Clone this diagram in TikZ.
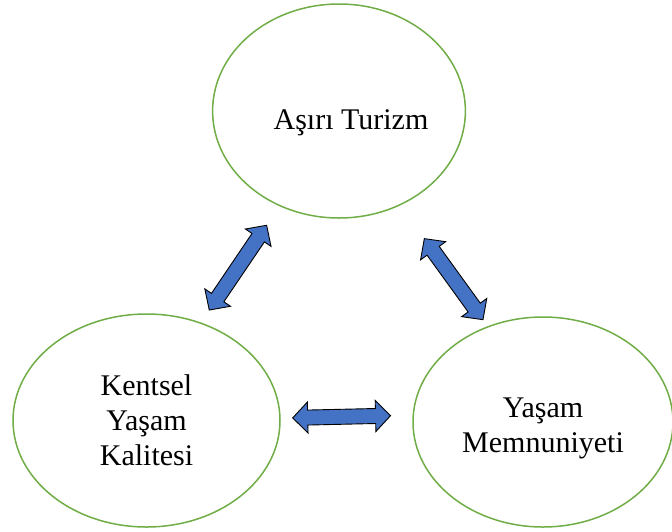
\documentclass[tikz,border=0pt]{standalone}
\usepackage{fontspec}
\setmainfont{Liberation Serif}
\usetikzlibrary{shapes.geometric,calc}

% block double arrow between two anchors, #3 and #4 = gaps at the ends
\newcommand{\blockarrow}[4]{%
  \draw[blockarrow] let \p1=(#1), \p2=(#2), \n1={atan2(\y2-\y1,\x2-\x1)},
      \p3=($(\p1)+({\n1}:#3pt)$), \p4=($(\p2)-({\n1}:#4pt)$) in
    (\p3) -- ($(\p3)+({\n1}:15pt)+({\n1+90}:15.5pt)$)
    -- ($(\p3)+({\n1}:15pt)+({\n1+90}:7.5pt)$)
    -- ($(\p4)-({\n1}:15pt)+({\n1+90}:7.5pt)$)
    -- ($(\p4)-({\n1}:15pt)+({\n1+90}:15.5pt)$)
    -- (\p4)
    -- ($(\p4)-({\n1}:15pt)-({\n1+90}:15.5pt)$)
    -- ($(\p4)-({\n1}:15pt)-({\n1+90}:7.5pt)$)
    -- ($(\p3)+({\n1}:15pt)-({\n1+90}:7.5pt)$)
    -- ($(\p3)+({\n1}:15pt)-({\n1+90}:15.5pt)$)
    -- cycle;}

\begin{document}
\begin{tikzpicture}[x=1pt,y=-1pt,
    bubble/.style={ellipse, draw={rgb, 255:red, 112; green, 173; blue, 71 }, line width=1.5pt,
        inner sep=0pt, align=center, font=\fontsize{30}{35}\selectfont},
    blockarrow/.style={draw={rgb, 255:red, 0; green, 0; blue, 0 }, line width=0.9pt, line join=miter,
        fill={rgb, 255:red, 68; green, 114; blue, 196 }}]

    \useasboundingbox (0,0) rectangle (672,531);

    \node[bubble, minimum width=242pt, minimum height=214pt, text height=42pt, text depth=6pt] (asiri) at (339,111) {\hspace*{24pt}Aşırı Turizm};
    \node[bubble, minimum width=267pt, minimum height=213pt] (kentsel) at (146.5,420.5) {Kentsel\\Yaşam\\Kalitesi};
    \node[bubble, minimum width=260pt, minimum height=210pt] (yasam) at (543,422) {\rule{0pt}{32pt}Yaşam\\Memnuniyeti};

    \blockarrow{kentsel.61}{asiri.238}{15}{23}
    \blockarrow{asiri.303}{yasam.120}{41}{8}
    \blockarrow{kentsel.1.5}{yasam.177.5}{12}{22}

\end{tikzpicture}
\end{document}
